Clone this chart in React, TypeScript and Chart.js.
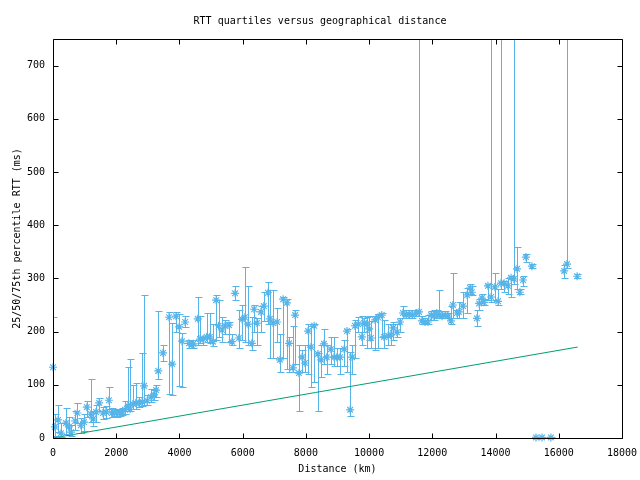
import { useEffect, useRef } from "react";
import { Chart, registerables } from "chart.js";

Chart.register(...registerables);

const TITLE = "RTT quartiles versus geographical distance";
const X_TITLE = "Distance (km)";
const Y_TITLE = "25/50/75th percentile RTT (ms)";

const DIST = [
  0, 60, 160, 250, 410, 500, 570, 700, 770, 880, 980, 1070, 1200, 1270, 1360, 1460, 1580, 1680, 1770, 1860,
  1930, 2020, 2120, 2180, 2280, 2370, 2440, 2530, 2620, 2720, 2820, 2880, 2980, 3100, 3200, 3260, 3330, 3480, 3670, 3770,
  3890, 3990, 4080, 4180, 4300, 4390, 4440, 4580, 4650, 4750, 4860, 4960, 5060, 5160, 5240, 5350, 5440, 5570, 5660, 5760,
  5880, 5980, 6070, 6170, 6290, 6360, 6450, 6580, 6670, 6800, 6860, 6960, 7090, 7180, 7280, 7400, 7470, 7590, 7660, 7780,
  7880, 7970, 8070, 8160, 8260, 8380, 8480, 8570, 8660, 8790, 8890, 8980, 9080, 9210, 9300, 9400, 9460, 9550, 9650, 9770,
  9840, 9930, 10000, 10060, 10190, 10280, 10400, 10470, 10600, 10690, 10760, 10880, 10980, 11070, 11170, 11260, 11360, 11480, 11580, 11670,
  11770, 11860, 11960, 12050, 12140, 12210, 12310, 12400, 12500, 12590, 12650, 12780, 12840, 12970, 13100, 13190, 13250, 13410, 13480, 13570,
  13630, 13760, 13860, 13980, 14080, 14170, 14270, 14390, 14490, 14580, 14680, 14770, 14870, 14960, 15150, 15280, 15470, 15750, 16170, 16260,
  16580,
];

const MEDIAN = [
  133, 21, 34, 9, 28, 21, 11, 32, 47, 24, 30, 58, 45, 36, 49, 66, 47, 49, 71, 47,
  47, 47, 47, 49, 53, 60, 54, 64, 66, 66, 68, 98, 70, 77, 81, 90, 126, 160, 227, 139,
  229, 209, 182, 218, 178, 175, 177, 224, 186, 186, 190, 190, 181, 259, 211, 203, 211, 212, 181, 272,
  188, 223, 227, 214, 178, 242, 216, 237, 248, 273, 224, 216, 218, 147, 261, 254, 178, 132, 231, 122,
  152, 141, 201, 171, 211, 158, 147, 177, 152, 167, 152, 152, 152, 167, 201, 53, 152, 211, 214, 190,
  216, 214, 205, 188, 222, 227, 231, 190, 192, 194, 207, 199, 218, 235, 231, 233, 231, 235, 237, 220,
  218, 218, 231, 229, 235, 231, 229, 231, 229, 220, 250, 235, 237, 248, 269, 282, 274, 225, 253, 263,
  255, 286, 265, 284, 257, 291, 291, 286, 301, 299, 318, 274, 297, 340, 323, 1, 1, 1, 314, 327,
  304,
];

const Q25 = [
  100, 3, 12, 2, 8, 5, 3, 15, 28, 10, 14, 40, 30, 22, 30, 50, 35, 38, 55, 40,
  42, 40, 42, 44, 45, 50, 50, 55, 55, 58, 60, 62, 62, 68, 72, 78, 110, 145, 83, 81,
  200, 98, 96, 209, 170, 170, 170, 175, 178, 175, 180, 178, 172, 185, 190, 180, 195, 180, 175, 260,
  170, 185, 180, 175, 165, 200, 175, 200, 220, 215, 150, 150, 180, 125, 150, 130, 125, 125, 140, 51,
  125, 125, 120, 95, 105, 51, 115, 140, 120, 140, 135, 135, 120, 135, 125, 41, 120, 150, 200, 175,
  200, 170, 185, 170, 165, 170, 190, 170, 175, 175, 185, 190, 200, 225, 225, 225, 225, 230, 230, 215,
  215, 215, 222, 222, 225, 225, 225, 225, 225, 215, 225, 225, 225, 225, 235, 270, 268, 210, 240, 255,
  250, 260, 255, 260, 250, 280, 275, 270, 265, 290, 280, 270, 285, 330, 320, 0, 0, 0, 300, 320,
  300,
];

const Q75 = [
  228, 45, 62, 28, 56, 40, 25, 50, 66, 38, 46, 70, 111, 50, 62, 75, 58, 60, 96, 56,
  55, 52, 55, 56, 70, 133, 148, 100, 103, 78, 160, 268, 80, 92, 90, 100, 238, 175, 237, 216,
  237, 233, 197, 229, 185, 185, 185, 265, 230, 190, 235, 235, 215, 268, 260, 228, 222, 218, 195, 285,
  240, 250, 321, 285, 228, 250, 225, 248, 275, 293, 278, 278, 245, 195, 265, 262, 190, 210, 240, 175,
  165, 175, 215, 210, 215, 160, 175, 205, 175, 190, 190, 170, 170, 185, 205, 162, 175, 222, 228, 230,
  225, 228, 230, 220, 230, 233, 235, 222, 215, 215, 218, 215, 225, 248, 240, 240, 240, 240, 800, 230,
  225, 232, 238, 240, 240, 278, 238, 238, 235, 248, 310, 240, 255, 275, 282, 290, 285, 240, 262, 270,
  262, 290, 800, 310, 280, 800, 295, 300, 305, 800, 359, 280, 305, 345, 328, 1, 1, 1, 325, 800,
  308,
];

const LIGHT_DIST = [0, 16600];
const LIGHT_RTT = [0, 171];

const X_TICKS = [0, 2000, 4000, 6000, 8000, 10000, 12000, 14000, 16000, 18000];
const Y_TICKS = [0, 100, 200, 300, 400, 500, 600, 700];

const BLUE = "#56b4e9";
const GREEN = "#009e73";
const FONT = { family: "'DejaVu Sans Mono', 'Liberation Mono', monospace", size: 10 };

const framePlugin = {
  id: "gnuFrame",
  beforeDatasetsDraw(chart: any) {
    const { ctx, chartArea: a, scales } = chart;
    const xs = scales.x;
    const ys = scales.y;
    ctx.save();
    ctx.beginPath();
    ctx.rect(a.left, a.top, a.right - a.left, a.bottom - a.top);
    ctx.clip();
    ctx.strokeStyle = BLUE;
    ctx.lineWidth = 1;
    ctx.beginPath();
    for (let i = 0; i < DIST.length; i++) {
      const px = Math.round(xs.getPixelForValue(DIST[i])) + 0.5;
      const yl = Math.round(ys.getPixelForValue(Q25[i])) + 0.5;
      const yh = Math.round(ys.getPixelForValue(Q75[i])) + 0.5;
      ctx.moveTo(px, yl);
      ctx.lineTo(px, yh);
      ctx.moveTo(px - 3, yl);
      ctx.lineTo(px + 4, yl);
      ctx.moveTo(px - 3, yh);
      ctx.lineTo(px + 4, yh);
    }
    ctx.stroke();
    ctx.restore();
  },
  afterDraw(chart: any) {
    const { ctx, chartArea: a, scales } = chart;
    const xs = scales.x;
    const ys = scales.y;
    const L = Math.round(a.left) + 0.5;
    const R = Math.round(a.right) + 0.5;
    const T = Math.round(a.top) + 0.5;
    const B = Math.round(a.bottom) + 0.5;
    ctx.save();
    ctx.strokeStyle = "#000";
    ctx.lineWidth = 1;
    ctx.beginPath();
    ctx.rect(L, T, R - L, B - T);
    const tl = 5;
    for (const v of X_TICKS) {
      const px = Math.round(xs.getPixelForValue(v)) + 0.5;
      ctx.moveTo(px, B);
      ctx.lineTo(px, B - tl);
      ctx.moveTo(px, T);
      ctx.lineTo(px, T + tl);
    }
    for (const v of Y_TICKS) {
      const py = Math.round(ys.getPixelForValue(v)) + 0.5;
      ctx.moveTo(L, py);
      ctx.lineTo(L + tl, py);
      ctx.moveTo(R, py);
      ctx.lineTo(R - tl, py);
    }
    ctx.stroke();
    ctx.restore();
  },
};

export default function App() {
  const ref = useRef<HTMLCanvasElement | null>(null);

  useEffect(() => {
    if (!ref.current) return;
    const chart = new Chart(ref.current, {
      type: "scatter",
      data: {
        datasets: [
          {
            label: "quartiles",
            data: DIST.map((d, i) => ({ x: d, y: MEDIAN[i] })),
            pointStyle: "star",
            pointRadius: 4,
            borderColor: BLUE,
            backgroundColor: BLUE,
            borderWidth: 1.2,
            clip: false as any,
          },
          {
            label: "light",
            data: LIGHT_DIST.map((d, i) => ({ x: d, y: LIGHT_RTT[i] })),
            showLine: true,
            pointRadius: 0,
            borderColor: GREEN,
            borderWidth: 1,
          } as any,
        ],
      },
      options: {
        responsive: false,
        animation: false,
        events: [],
        layout: { padding: 0 },
        plugins: {
          legend: { display: false },
          tooltip: { enabled: false },
          title: {
            display: true,
            text: TITLE,
            color: "#000",
            font: { ...FONT, weight: "normal" },
            padding: { top: 15, bottom: 12 },
          },
        },
        scales: {
          x: {
            type: "linear",
            min: 0,
            max: 18000,
            grid: { display: false },
            border: { display: false },
            ticks: {
              color: "#000",
              font: FONT,
              padding: 1,
              maxRotation: 0,
              autoSkip: false,
              callback: (v: any) => String(v),
            },
            afterBuildTicks: (s: any) => {
              s.ticks = X_TICKS.map((v) => ({ value: v }));
            },
            afterFit: (s: any) => {
              s.height = 42;
              s.paddingLeft = 0;
              s.paddingRight = 18;
            },
            title: { display: true, text: X_TITLE, color: "#000", font: FONT, padding: { top: 0, bottom: 5 } },
          },
          y: {
            type: "linear",
            min: 0,
            max: 750,
            grid: { display: false },
            border: { display: false },
            ticks: { color: "#000", font: FONT, padding: 0, autoSkip: false, callback: (v: any) => String(v) },
            afterBuildTicks: (s: any) => {
              s.ticks = Y_TICKS.map((v) => ({ value: v }));
            },
            afterFit: (s: any) => {
              s.width = 53;
              s.paddingTop = 0;
              s.paddingBottom = 0;
            },
            title: { display: true, text: Y_TITLE, color: "#000", font: FONT, padding: { top: 11, bottom: 0 } },
          },
        },
      } as any,
      plugins: [framePlugin],
    });
    return () => chart.destroy();
  }, []);

  return (
    <div style={{ position: "absolute", left: 0, top: 0, width: 640, height: 480, background: "#fff" }}>
      <canvas ref={ref} width={640} height={480} />
    </div>
  );
}
